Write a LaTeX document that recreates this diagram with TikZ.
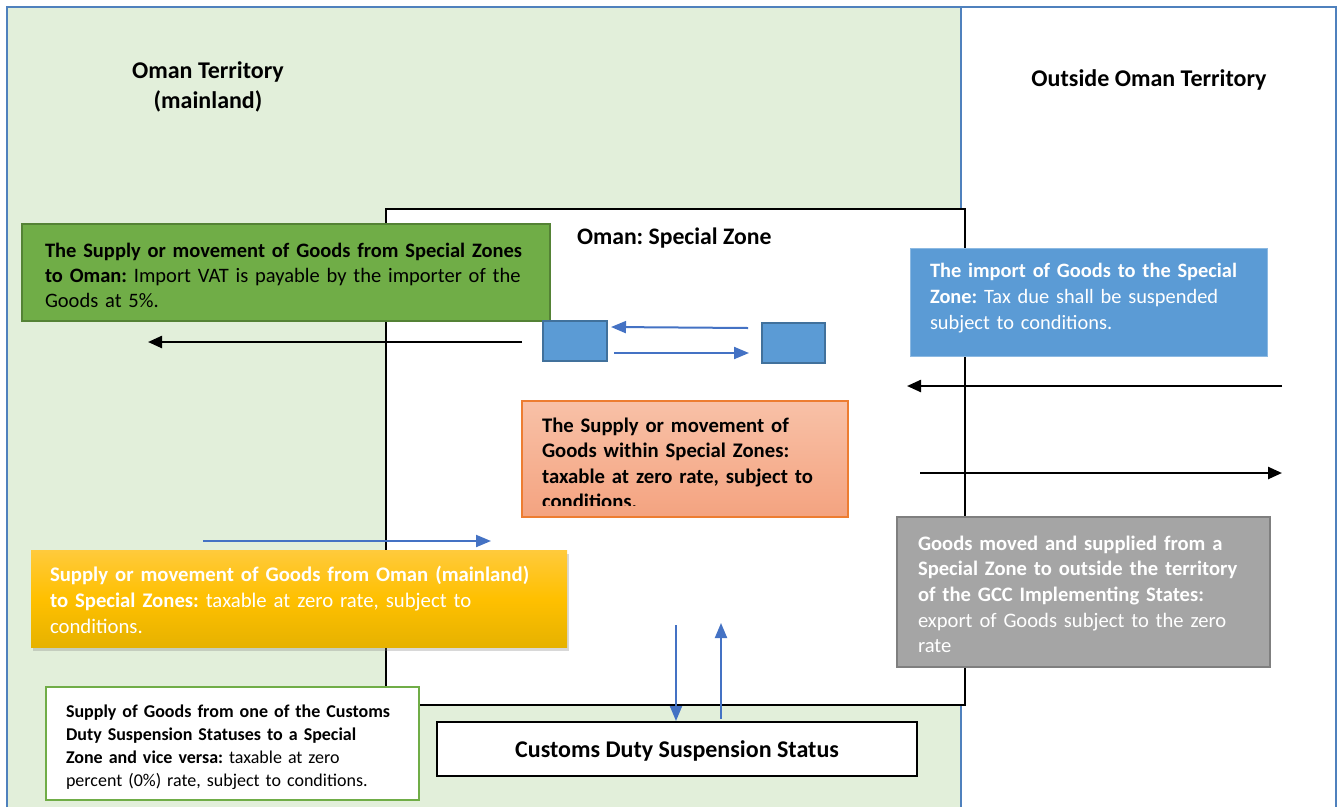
\documentclass[tikz,border=0pt]{standalone}
\usepackage{fontspec}
\setmainfont{Carlito}
\frenchspacing
\usetikzlibrary{arrows.meta,shadows}
\definecolor{framebl}{RGB}{79,129,189}
\definecolor{zonegreen}{RGB}{226,239,218}
\definecolor{boxgreen}{RGB}{112,173,71}
\definecolor{boxgreenb}{RGB}{84,130,53}
\definecolor{boxblue}{RGB}{91,155,213}
\definecolor{boxblueb}{RGB}{65,113,156}
\definecolor{arrblue}{RGB}{68,114,196}
\definecolor{orangetop}{RGB}{248,193,167}
\definecolor{orangebot}{RGB}{244,163,128}
\definecolor{orangeb}{RGB}{237,125,49}
\definecolor{yeltop}{RGB}{255,202,60}
\definecolor{yelmid}{RGB}{255,192,0}
\definecolor{yelbot}{RGB}{230,178,0}
\definecolor{greyf}{RGB}{165,165,165}
\definecolor{greyb}{RGB}{127,127,127}
\begin{document}
\begin{tikzpicture}[x=1pt,y=-1pt,
  boxbase/.style={rectangle, inner sep=0pt, outer sep=0pt, anchor=north west},
  txt/.style={anchor=base west, inner sep=0pt, outer sep=0pt, align=left},
  blackarrow/.style={line width=2.4pt, -{Triangle[length=14pt,width=12pt]}},
  bluearrow/.style={arrblue, line width=2pt, -{Triangle[length=15pt,width=12pt]}},
]
\useasboundingbox (0,0) rectangle (1344,807);
\fill[white] (0,0) rectangle (1344,807);
\fill[zonegreen] (7,7) rectangle (961,807);
\draw[framebl, line width=2.5pt] (7,807) -- (7,7) -- (1336,7) -- (1336,807);
\draw[framebl, line width=2.5pt] (961,7) -- (961,807);

% titles
\node[anchor=base, align=center, inner sep=0pt, font=\fontsize{24}{30}\selectfont\bfseries] (tl) at (208,108) {Oman Territory\\(mainland)};
\node[anchor=base, inner sep=0pt, font=\fontsize{24}{30}\selectfont\bfseries] (tr) at (1149,86) {Outside Oman Territory};

% special zone
\node[boxbase, draw=black, fill=white, line width=2pt, minimum width=579pt, minimum height=496pt] (zone) at (386,209) {};
\node[txt, font=\fontsize{23.7}{26}\selectfont\bfseries] (zt) at (577,244) {Oman: Special Zone};

% arrow from special zone to Oman
\coordinate (a1s) at (522,342);
\coordinate (a1e) at (148,342);
\draw[blackarrow] (a1s) -- (a1e);

% green box
\node[boxbase, draw=boxgreenb, fill=boxgreen, line width=1.5pt, minimum width=528pt, minimum height=97pt] (gbox) at (22,224) {};
\node[txt, text width=515pt, font=\fontsize{20.5}{25}\selectfont] (gt) at (45,257)
  {\textbf{The Supply or movement of Goods from Special Zones}\\\textbf{to Oman:} Import VAT is payable by the importer of the\\Goods at 5\%.};

% small blue rectangles
\node[boxbase, draw=boxblueb, fill=boxblue, line width=1.5pt, minimum width=64pt, minimum height=40pt] (r1) at (543,321) {};
\node[boxbase, draw=boxblueb, fill=boxblue, line width=1.5pt, minimum width=63pt, minimum height=40pt] (r2) at (762,323) {};
\coordinate (b1s) at (748,328);
\coordinate (b1e) at (611,327);
\coordinate (b2s) at (614,353);
\coordinate (b2e) at (749,353);
\draw[bluearrow] (b1s) -- (b1e);
\draw[bluearrow] (b2s) -- (b2e);

% blue box (import)
\node[boxbase, draw=boxblue!70!white, fill=boxblue, line width=0.8pt, minimum width=357pt, minimum height=108pt] (bbox) at (910,248) {};
\node[txt, text width=335pt, text=white, font=\fontsize{20.4}{26}\selectfont] (bt) at (930,277)
  {\textbf{The import of Goods to the Special}\\\textbf{Zone:} Tax due shall be suspended\\subject to conditions.};

% black arrows right side
\coordinate (c1s) at (1282,386);
\coordinate (c1e) at (907,386);
\coordinate (c2s) at (920,473);
\coordinate (c2e) at (1282,473);
\draw[blackarrow] (c1s) -- (c1e);
\draw[blackarrow] (c2s) -- (c2e);

% orange box
\node[boxbase, draw=orangeb, top color=orangetop, bottom color=orangebot, line width=1.2pt, minimum width=326pt, minimum height=116pt] (obox) at (522,401) {};
\begin{scope}
\clip (522,401) rectangle (848,505);
\node[txt, text width=300pt, font=\fontsize{20.7}{25.5}\selectfont\bfseries] (ot) at (542,432)
  {The Supply or movement of\\Goods within Special Zones:\\taxable at zero rate, subject to\\conditions.};
\end{scope}

% arrow mainland -> zone
\coordinate (d1s) at (203,541);
\coordinate (d1e) at (491,541);
\draw[bluearrow] (d1s) -- (d1e);

% yellow box
\node[boxbase, top color=yeltop, bottom color=yelbot, middle color=yelmid, minimum width=536pt, minimum height=97pt,
  drop shadow={shadow xshift=2pt, shadow yshift=-4pt, opacity=0.3}] (ybox) at (31,550) {};
\node[txt, text width=520pt, text=white, font=\fontsize{20.75}{26}\selectfont] (yt) at (50,581)
  {\textbf{Supply or movement of Goods from Oman (mainland)}\\\textbf{to Special Zones:} taxable at zero rate, subject to\\conditions.};

% gray box
\node[boxbase, draw=greyb, fill=greyf, line width=1.5pt, minimum width=373pt, minimum height=150pt] (gybox) at (897,517) {};
\node[txt, text width=350pt, text=white, font=\fontsize{20.6}{25.7}\selectfont] (gyt) at (918,550)
  {\textbf{Goods moved and supplied from a}\\\textbf{Special Zone to outside the territory}\\\textbf{of the GCC Implementing States:}\\export of Goods subject to the zero\\rate};

% customs box
\node[boxbase, draw=black, fill=white, line width=2pt, minimum width=480pt, minimum height=54pt] (cbox) at (437,722) {};
\node[anchor=base, inner sep=0pt, font=\fontsize{24}{26}\selectfont\bfseries] (ct) at (677,757) {Customs Duty Suspension Status};
\coordinate (e1s) at (676,625);
\coordinate (e1e) at (676,721);
\coordinate (e2s) at (721,719);
\coordinate (e2e) at (721,623);
\draw[bluearrow] (e1s) -- (e1e);
\draw[bluearrow] (e2s) -- (e2e);

% small box
\node[boxbase, draw=boxgreen, fill=white, line width=2pt, minimum width=373pt, minimum height=113pt] (sbox) at (46,687) {};
\node[txt, text width=350pt, font=\fontsize{18}{23}\selectfont] (st) at (66,717)
  {\textbf{Supply of Goods from one of the Customs}\\\textbf{Duty Suspension Statuses to a Special}\\\textbf{Zone and vice versa:} taxable at zero\\percent (0\%) rate, subject to conditions.};
\end{tikzpicture}
\end{document}
